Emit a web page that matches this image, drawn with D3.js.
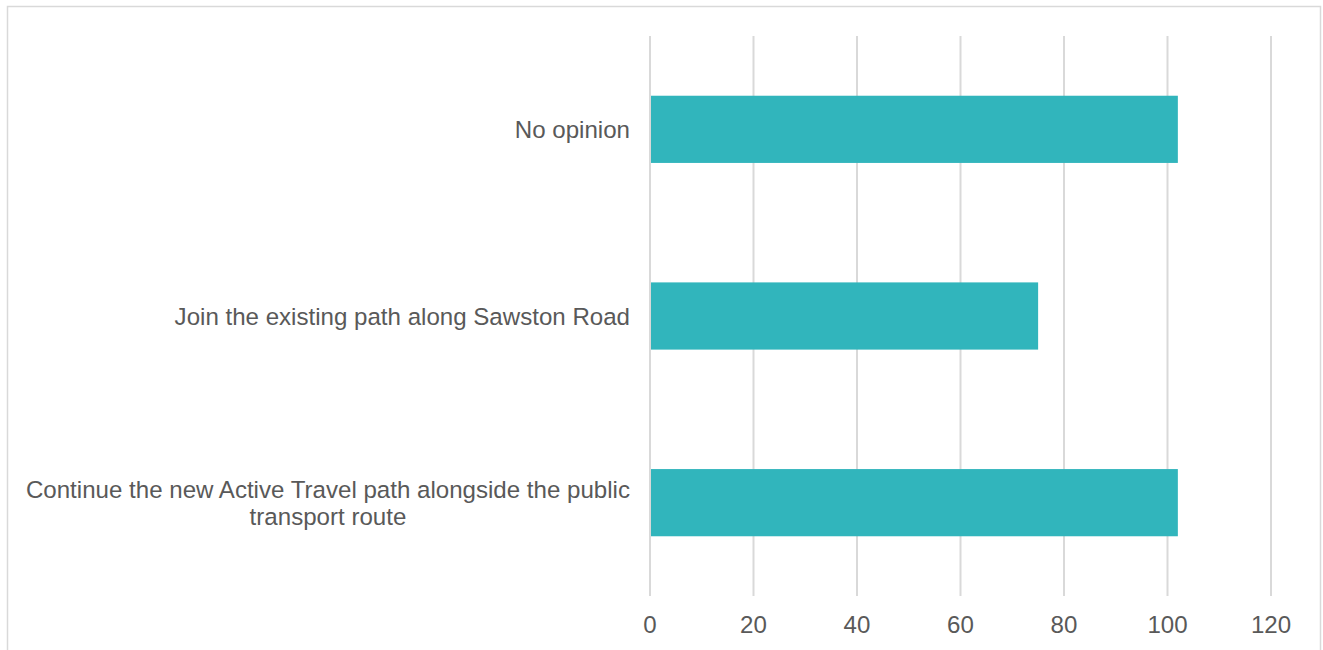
<!DOCTYPE html>
<html>
<head>
<meta charset="utf-8">
<script src="https://cdn.jsdelivr.net/npm/d3@7/dist/d3.min.js"></script>
<style>
  html, body { margin: 0; padding: 0; background: #fff; }
  svg { display: block; font-family: "Liberation Sans", Arial, sans-serif; }
</style>
</head>
<body>
<svg id="chart" width="1323" height="650"></svg>
<script>
// Survey responses: preferred route option
const categories = [
  "No opinion",
  "Join the existing path along Sawston Road",
  "Continue the new Active Travel path alongside the public transport route"
];
const values = [102, 75, 102];
const tickValues = [0, 20, 40, 60, 80, 100, 120];

// Long labels are split onto lines at these points
const labelLines = [
  ["No opinion"],
  ["Join the existing path along Sawston Road"],
  ["Continue the new Active Travel path alongside the public", "transport route"]
];

const svg = d3.select("#chart");
const plot = { left: 650, right: 1271, top: 36, bottom: 596 };
const fontSize = 24.1;

// Chart frame
svg.append("rect")
  .attr("x", 7.5).attr("y", 6.5)
  .attr("width", 1313).attr("height", 720)
  .attr("fill", "#fff")
  .attr("stroke", "#d9d9d9")
  .attr("stroke-width", 1.5);

const x = d3.scaleLinear().domain([0, 120]).range([plot.left, plot.right]);
const y = d3.scaleBand()
  .domain(categories)
  .range([plot.top, plot.bottom])
  .paddingInner(0.64)
  .paddingOuter(0.32);

// Vertical gridlines
svg.append("g")
  .selectAll("line")
  .data(tickValues)
  .join("line")
  .attr("x1", d => x(d)).attr("x2", d => x(d))
  .attr("y1", plot.top).attr("y2", plot.bottom)
  .attr("stroke", "#d9d9d9")
  .attr("stroke-width", 2);

// Bars
svg.append("g")
  .selectAll("rect")
  .data(categories)
  .join("rect")
  .attr("x", x(0) + 1)
  .attr("y", d => y(d))
  .attr("width", (d, i) => x(values[i]) - x(0) - 1)
  .attr("height", y.bandwidth())
  .attr("fill", "#31b5bc");

// Category labels
const labels = svg.append("g")
  .selectAll("text")
  .data(categories)
  .join("text")
  .attr("fill", "#595959")
  .attr("font-size", fontSize)
  .attr("text-anchor", "middle")
  .attr("dominant-baseline", "central");

const labelRight = 630;
labels.each(function(d, i) {
  const lines = labelLines[i];
  const t = d3.select(this);
  const lh = 27;
  const cy = y(d) + y.bandwidth() / 2;
  // measure widest line to right-align the block and centre lines within it
  const tmp = t.append("tspan").text(lines[0]);
  let maxW = 0;
  lines.forEach(l => { tmp.text(l); maxW = Math.max(maxW, tmp.node().getComputedTextLength()); });
  tmp.remove();
  const cx = labelRight - maxW / 2;
  lines.forEach((l, j) => {
    t.append("tspan")
      .attr("x", cx)
      .attr("y", cy + (j - (lines.length - 1) / 2) * lh)
      .text(l);
  });
});

// Value axis tick labels
svg.append("g")
  .selectAll("text")
  .data(tickValues)
  .join("text")
  .attr("x", d => x(d))
  .attr("y", 633)
  .attr("text-anchor", "middle")
  .attr("fill", "#595959")
  .attr("font-size", fontSize)
  .text(d => d);
</script>
</body>
</html>
